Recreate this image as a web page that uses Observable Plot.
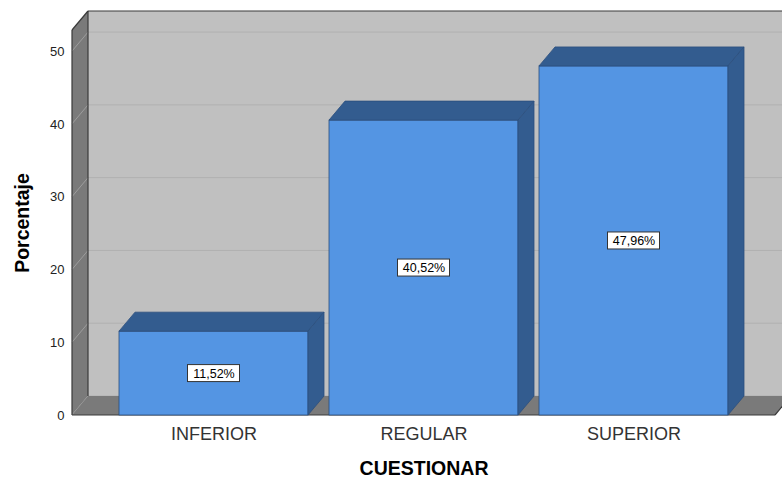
<!DOCTYPE html>
<html><head><meta charset="utf-8">
<script src="https://cdn.jsdelivr.net/npm/d3@7"></script>
<script src="https://cdn.jsdelivr.net/npm/@observablehq/plot@0.6"></script>
<style>html,body{margin:0;padding:0;background:#fff;overflow:hidden;}</style>
</head><body><div id="chart"></div>
<script>
const categories = ["INFERIOR", "REGULAR", "SUPERIOR"];
const percentages = [11.52, 40.52, 47.96];
const valueLabels = ["11,52%", "40,52%", "47,96%"];
const yTicks = [0, 10, 20, 30, 40, 50];
const yTitle = "Porcentaje";
const xTitle = "CUESTIONAR";
const yMax = 52.9;

const data = categories.map((c, i) => ({cat: c, value: percentages[i], label: valueLabels[i]}));
const DX = 16, DY = 19;
const FRONT = "#5495e3", DARK = "#335c8f", EDGE = "#2c4f7e";

function poly(g, pts, fill, stroke, sw) {
  g.append("polygon").attr("points", pts.map(p => p.join(",")).join(" "))
    .attr("fill", fill).attr("stroke", stroke || "none").attr("stroke-width", sw || 0);
}
function line(g, x1, y1, x2, y2, stroke, sw) {
  g.append("line").attr("x1", x1).attr("y1", y1).attr("x2", x2).attr("y2", y2)
    .attr("stroke", stroke).attr("stroke-width", sw);
}

function walls(index, scales, values, dims) {
  const {y} = scales;
  const L = dims.marginLeft, R = dims.width - dims.marginRight;
  const B = y(0), T = y(yMax);
  const g = d3.create("svg:g");
  // back wall
  poly(g, [[L + DX, T - DY], [R + DX, T - DY], [R + DX, B - DY], [L + DX, B - DY]], "#c0c0c0");
  for (const t of yTicks) line(g, L + DX, y(t) - DY, R + DX, y(t) - DY, "#b0b0b0", 1);
  // left wall
  poly(g, [[L, T], [L + DX, T - DY], [L + DX, B - DY], [L, B]], "#7a7a7a");
  for (const t of yTicks) line(g, L, y(t), L + DX, y(t) - DY, "#a6a6a6", 0.8);
  // floor
  poly(g, [[L, B], [L + DX, B - DY], [R + DX, B - DY], [R, B]], "#7a7a7a");
  // edges
  line(g, L + DX, T - DY, R + DX, T - DY, "#3a3a3a", 1.2);
  line(g, L + DX, T - DY, L + DX, B - DY, "#3a3a3a", 1.2);
  line(g, L, T, L + DX, T - DY, "#3a3a3a", 1.2);
  line(g, L, T, L, B, "#3a3a3a", 1.2);
  line(g, L, B, R, B, "#3a3a3a", 1.2);
  line(g, R, B, R + DX, B - DY, "#3a3a3a", 1.2);
  return g.node();
}

function bars3d(index, scales, values, dims) {
  const {x, y} = scales;
  const bw = x.bandwidth();
  const g = d3.create("svg:g");
  for (const d of data) {
    const x0 = x(d.cat), x1 = x0 + bw, yv = y(d.value), y0 = y(0);
    poly(g, [[x0, yv], [x0 + DX, yv - DY], [x1 + DX, yv - DY], [x1, yv]], DARK, EDGE, 0.8);
    poly(g, [[x1, yv], [x1 + DX, yv - DY], [x1 + DX, y0 - DY], [x1, y0]], DARK, EDGE, 0.8);
  }
  return g.node();
}

function labelBoxes(index, scales, values, dims) {
  const {x, y} = scales;
  const bw = x.bandwidth();
  const g = d3.create("svg:g");
  for (const d of data) {
    const cx = x(d.cat) + bw / 2, cy = y(d.value / 2);
    g.append("rect").attr("x", cx - 26).attr("y", cy - 8.5).attr("width", 52).attr("height", 17)
      .attr("fill", "#fff").attr("stroke", "#333").attr("stroke-width", 1);
  }
  return g.node();
}

const chart = Plot.plot({
  width: 782,
  height: 485,
  marginLeft: 72,
  marginRight: 7,
  marginTop: 30,
  marginBottom: 70,
  style: {fontFamily: "'Liberation Sans', Arial, sans-serif", background: "#fff", color: "#222", overflow: "hidden"},
  x: {domain: categories, paddingInner: 0.1, paddingOuter: 0.22, label: null},
  y: {domain: [0, yMax], label: null},
  marks: [
    walls,
    Plot.barY(data, {x: "cat", y: "value", fill: FRONT, stroke: EDGE, strokeWidth: 0.8}),
    bars3d,
    labelBoxes,
    Plot.text(data, {x: "cat", y: d => d.value / 2, text: "label", fontSize: 12.5, fill: "#000"}),
    Plot.axisY({ticks: yTicks, tickSize: 0, tickPadding: 8, fontSize: 13, label: null, fill: "#222"}),
    Plot.axisX({tickSize: 0, tickPadding: 12, fontSize: 18, label: null, fill: "#333"}),
    Plot.text([yTitle], {frameAnchor: "left", textAnchor: "middle", dx: -50, rotate: -90, fontSize: 19.5, fontWeight: "bold", fill: "#000"}),
    Plot.text([xTitle], {frameAnchor: "bottom", dy: 59, fontSize: 19.5, fontWeight: "bold", fill: "#000"})
  ]
});
document.getElementById("chart").appendChild(chart);
</script>
</body></html>
